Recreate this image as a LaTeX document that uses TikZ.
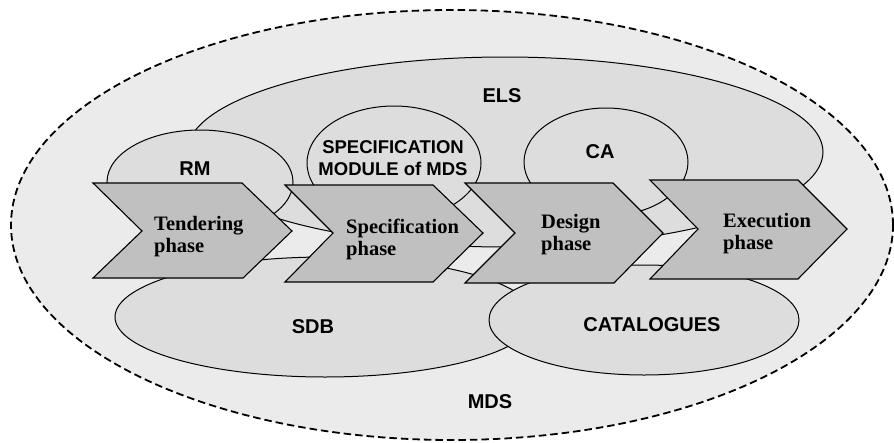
\documentclass[tikz,border=0pt]{standalone}
\usepackage{fontspec}
\setmainfont{Liberation Serif}
\newfontfamily\labelsans{Liberation Sans}
\usetikzlibrary{shapes.geometric}
\definecolor{mdsfill}{RGB}{235,235,235}
\definecolor{setfill}{RGB}{221,221,221}
\definecolor{phasefill}{RGB}{192,192,192}
\tikzset{
  outerset/.style={ellipse, inner sep=0pt, draw=black, line width=1.8pt,
                   dash pattern=on 7.5pt off 4pt, fill=mdsfill},
  region/.style={ellipse, inner sep=0pt, draw=black, line width=1pt, fill=setfill},
  phasebox/.style={draw=black, line width=1.1pt, fill=phasefill, line join=miter},
  % base anchor of a two-line node sits on the second line
  phasetext/.style={font=\bfseries\fontsize{20.5}{22}\selectfont, align=left,
                    anchor=base west, inner sep=0pt},
  settext/.style={font=\labelsans\bfseries\fontsize{20}{22}\selectfont,
                  anchor=base, inner sep=0pt, align=center},
}
\begin{document}
\begin{tikzpicture}[x=1pt,y=-1pt]
\useasboundingbox (0,0) rectangle (894,442);

% system boundary
\node[outerset, minimum width=882pt, minimum height=430pt] (mds) at (452,225) {};

% information sets
\node[region, minimum width=636pt, minimum height=190pt] (els) at (505,152) {};
\node[region, minimum width=186pt, minimum height=104pt] (rm)  at (200,182) {};
\node[region, minimum width=174pt, minimum height=114pt] (spm) at (394,163) {};
\node[region, minimum width=164pt, minimum height=108pt] (ca)  at (606,162) {};
\node[region, minimum width=420pt, minimum height=120pt] (sdb) at (325,317) {};
\node[region, minimum width=310pt, minimum height=110pt] (cat) at (644,320) {};

% process phases
\filldraw[phasebox] (93,183) -- (242,183) -- (292,231) -- (243,278) -- (93,278) -- (142,231) -- cycle;
\filldraw[phasebox] (285,185) -- (433,185) -- (483,233) -- (433,282) -- (285,282) -- (333,233) -- cycle;
\filldraw[phasebox] (465,183) -- (613,183) -- (663,233) -- (614,283) -- (465,283) -- (515,233) -- cycle;
\filldraw[phasebox] (650,180) -- (798,180) -- (847,229) -- (798,279) -- (650,279) -- (698,229) -- cycle;

\node[phasetext] (tender) at (154,252) {Tendering\\phase};
\node[phasetext] (spec)   at (346,255) {Specification\\phase};
\node[phasetext] (design) at (541,250) {Design\\phase};
\node[phasetext] (exec)   at (723,249) {Execution\\phase};

% set labels
\node[settext] (elslbl) at (502,102) {ELS};
\node[settext] (rmlbl)  at (195,175) {RM};
\node[settext, font=\labelsans\bfseries\fontsize{18.5}{22}\selectfont] (spmlbl) at (393,175) {SPECIFICATION\\MODULE of MDS};
\node[settext] (calbl)  at (600,158) {CA};
\node[settext] (sdblbl) at (313,333) {SDB};
\node[settext] (catlbl) at (652,331) {CATALOGUES};
\node[settext] (mdslbl) at (490,408) {MDS};
\end{tikzpicture}
\end{document}
